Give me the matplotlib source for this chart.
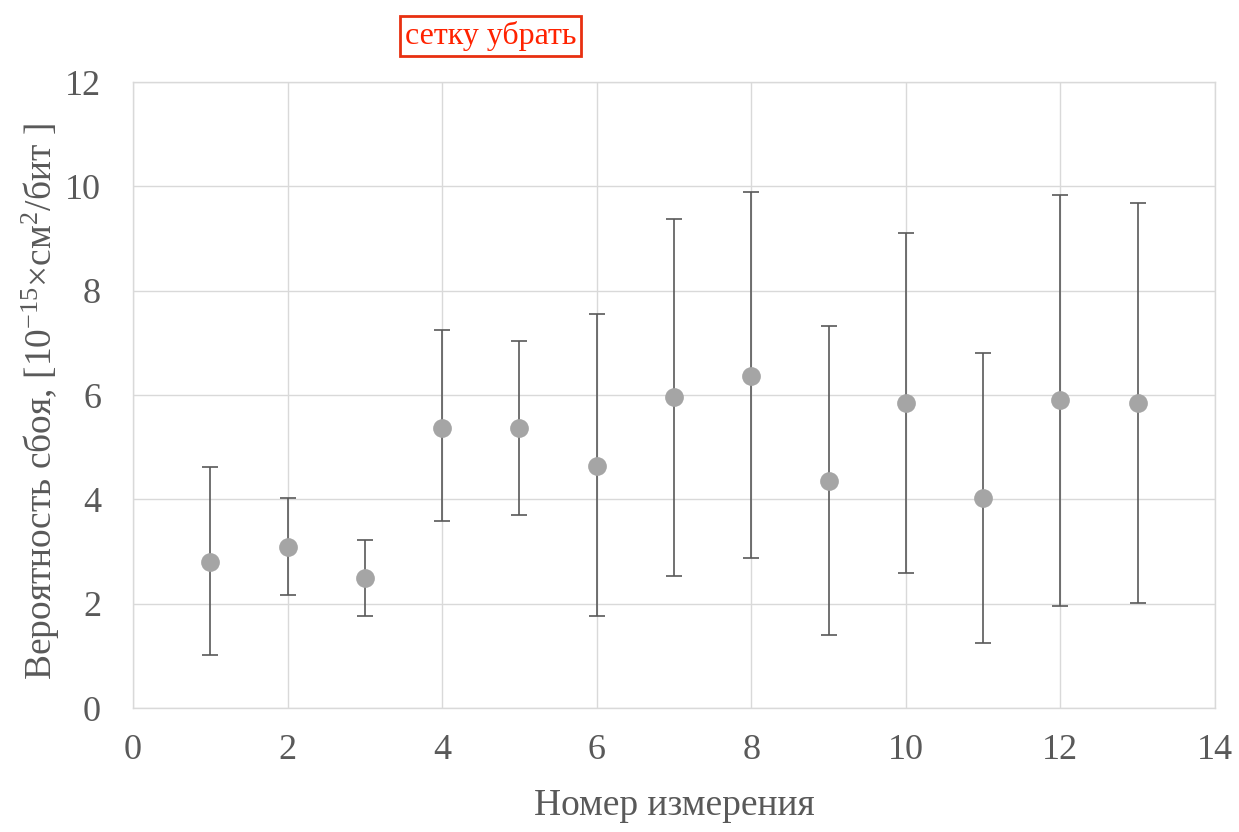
import matplotlib

matplotlib.use("Agg")
import matplotlib.pyplot as plt

plt.rcParams["font.family"] = ["Liberation Serif", "DejaVu Serif"]
plt.rcParams["mathtext.fontset"] = "custom"
plt.rcParams["mathtext.rm"] = "Liberation Serif"
plt.rcParams["mathtext.it"] = "Liberation Serif"

# номер измерения и вероятность сбоя с границами
measurement = [1, 2, 3, 4, 5, 6, 7, 8, 9, 10, 11, 12, 13]
value = [2.80, 3.09, 2.49, 5.37, 5.37, 4.64, 5.96, 6.36, 4.35, 5.85, 4.03, 5.90, 5.85]
upper = [4.62, 4.03, 3.22, 7.25, 7.03, 7.55, 9.37, 9.89, 7.32, 9.10, 6.80, 9.83, 9.68]
lower = [1.02, 2.17, 1.76, 3.58, 3.70, 1.76, 2.53, 2.88, 1.40, 2.59, 1.25, 1.96, 2.01]

x_ticks = [0, 2, 4, 6, 8, 10, 12, 14]
y_ticks = [0, 2, 4, 6, 8, 10, 12]

err_low = [v - l for v, l in zip(value, lower)]
err_up = [u - v for u, v in zip(upper, value)]

fig = plt.figure(figsize=(12.39, 8.32), dpi=100)
ax = fig.add_axes([0.1073, 0.149, 0.8733, 0.7524])

ax.errorbar(measurement, value, yerr=[err_low, err_up], fmt="none",
            ecolor="#595959", elinewidth=1.2, capsize=5.5, capthick=1.2, zorder=2)
ax.plot(measurement, value, "o", color="#a5a5a5", markersize=13.5,
        markeredgewidth=0, zorder=3)

ax.set_xlim(0, 14)
ax.set_ylim(0, 12)
ax.set_xticks(x_ticks)
ax.set_yticks(y_ticks)
ax.grid(True, color="#d9d9d9", linewidth=1.0, zorder=0)
ax.set_axisbelow(True)
for sp in ax.spines.values():
    sp.set_color("#d9d9d9")
    sp.set_linewidth(1.0)
ax.tick_params(length=0, labelsize=26, labelcolor="#595959")
ax.tick_params(axis="x", pad=19)
ax.tick_params(axis="y", pad=23)

ax.set_xlabel("Номер измерения", fontsize=27, color="#595959")
ax.set_ylabel(r"Вероятность сбоя, [10$^{\mathrm{-15}}$×см$^{2}$/бит ]",
              fontsize=27, color="#595959")
ax.xaxis.set_label_coords(0.5, -0.128)
ax.yaxis.set_label_coords(-0.066, 0.49)

fig.text(0.396, 0.957, "сетку убрать", fontsize=23, color="#ff2200",
         ha="center", va="center",
         bbox=dict(boxstyle="square,pad=0.15", facecolor="white",
                   edgecolor="#e83010", linewidth=2))

fig.savefig("out.png", dpi=100)
